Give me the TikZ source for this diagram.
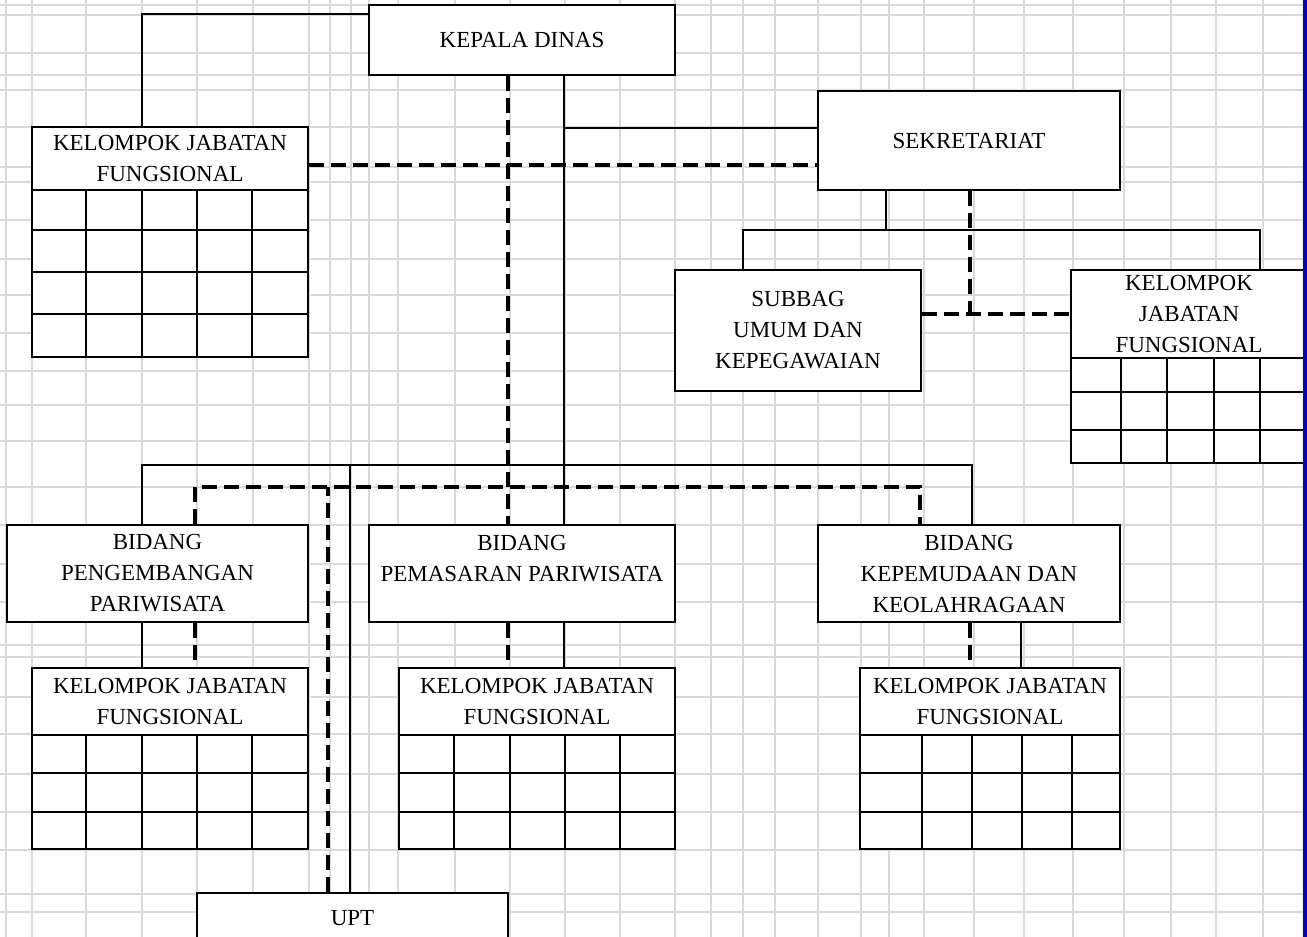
\documentclass[tikz,border=0pt]{standalone}
\usepackage{fontspec}
\setmainfont{Liberation Serif}
\definecolor{gridgray}{RGB}{217,217,217}
\definecolor{blueedge}{RGB}{0,0,204}
\tikzset{
  box/.style={draw, line width=1.8pt, fill=white, inner sep=0pt, align=center,
    font=\fontsize{23}{31}\selectfont},
  conn/.style={line width=1.8pt},
  dconn/.style={line width=3.5pt, dash pattern=on 15pt off 7pt},
  gridln/.style={draw=gridgray, line width=1.5pt},
  tbl/.style={line width=1.8pt}
}
\begin{document}
\begin{tikzpicture}[x=1pt,y=-1pt]
\useasboundingbox (0,0) rectangle (1307,937);
\clip (0,0) rectangle (1307,937);
\fill[white] (0,0) rectangle (1307,937);
% background grid
\foreach \gx in {6,32,86,142,197,253,309,330,351,369,398,455,510,565,620,675,711,743,775,818,861,889,924,974,1024,1073,1124,1171,1216,1263}
  \draw[gridln] (\gx,0) -- (\gx,937);
\foreach \gy in {5,15,53,75,90,127,167,182,220,259,295,333,371,405,441,487,525,564,602,645,657,697,734,774,812,850,894,912}
  \draw[gridln] (0,\gy) -- (1307,\gy);

% boxes
\node[box, minimum width=306pt, minimum height=70pt] (kd) at (522,40) {KEPALA DINAS};
\node[box, minimum width=276pt, minimum height=63pt] (kjf1h) at (170,158.5) {KELOMPOK JABATAN\\FUNGSIONAL};
\node[box, minimum width=276pt, minimum height=167pt] (kjf1t) at (170,273.5) {};
\node[box, minimum width=302pt, minimum height=99pt] (sek) at (969,140.5) {SEKRETARIAT};
\node[box, minimum width=246pt, minimum height=121pt] (sub) at (798,330.5) {SUBBAG\\UMUM DAN\\KEPEGAWAIAN};
\node[box, minimum width=236pt, minimum height=88pt] (kjf2h) at (1189,314) {KELOMPOK\\JABATAN\\FUNGSIONAL};
\node[box, minimum width=236pt, minimum height=105pt] (kjf2t) at (1189,410.5) {};
\node[box, minimum width=301pt, minimum height=97pt] (bp1) at (157.5,573.5) {BIDANG\\PENGEMBANGAN\\PARIWISATA};
\node[box, minimum width=306pt, minimum height=97pt] (bp2) at (522,573.5) {BIDANG\\PEMASARAN PARIWISATA\\\mbox{}};
\node[box, minimum width=302pt, minimum height=97pt] (bp3) at (969,573.5) {BIDANG\\KEPEMUDAAN DAN\\KEOLAHRAGAAN};
\node[box, minimum width=276pt, minimum height=67pt] (kjf3h) at (170,701.5) {KELOMPOK JABATAN\\FUNGSIONAL};
\node[box, minimum width=276pt, minimum height=114pt] (kjf3t) at (170,792) {};
\node[box, minimum width=276pt, minimum height=67pt] (kjf4h) at (537,701.5) {KELOMPOK JABATAN\\FUNGSIONAL};
\node[box, minimum width=276pt, minimum height=114pt] (kjf4t) at (537,792) {};
\node[box, minimum width=260pt, minimum height=67pt] (kjf5h) at (990,701.5) {KELOMPOK JABATAN\\FUNGSIONAL};
\node[box, minimum width=260pt, minimum height=114pt] (kjf5t) at (990,792) {};
\node[box, minimum width=311pt, minimum height=50pt] (upt) at (352.5,918) {UPT};

% table cells
\foreach \x in {86,142,197,252} \draw[tbl] (\x,190) -- (\x,357);
\foreach \y in {230,272,314} \draw[tbl] (32,\y) -- (308,\y);
\foreach \x in {1121,1167,1214,1260} \draw[tbl] (\x,358) -- (\x,463);
\foreach \y in {392,430} \draw[tbl] (1071,\y) -- (1307,\y);
\foreach \x in {86,142,197,252} \draw[tbl] (\x,735) -- (\x,849);
\foreach \y in {773,812} \draw[tbl] (32,\y) -- (308,\y);
\foreach \x in {454,510,565,620} \draw[tbl] (\x,735) -- (\x,849);
\foreach \y in {773,812} \draw[tbl] (399,\y) -- (675,\y);
\foreach \x in {922,972,1022,1072} \draw[tbl] (\x,735) -- (\x,849);
\foreach \y in {773,812} \draw[tbl] (860,\y) -- (1120,\y);

% helper coordinates
\coordinate (bus) at (0,465);
\coordinate (dbus) at (0,487);
\coordinate (sbus) at (0,230);
\coordinate (kdS) at ([xshift=42pt]kd.south);
\coordinate (kdD) at ([xshift=-14pt]kd.south);
\coordinate (d1) at ([xshift=-15.5pt]bp1.north);
\coordinate (d2) at ([xshift=42pt]bp2.north);
\coordinate (d3) at ([xshift=3pt]bp3.north);
\coordinate (d4) at ([xshift=-2.5pt]upt.north);
\coordinate (e1) at ([xshift=37.5pt]bp1.north);
\coordinate (e2) at ([xshift=-14pt]bp2.north);
\coordinate (e3) at ([xshift=-49pt]bp3.north);
\coordinate (e4) at ([xshift=-24.5pt]upt.north);
\coordinate (k1e) at ([yshift=-6.5pt]kjf1h.east);
\coordinate (s1) at ([xshift=-83pt]sek.south);
\coordinate (s2) at ([xshift=1pt]sek.south);
\coordinate (t1) at ([xshift=-55pt]sub.north);
\coordinate (t2) at ([xshift=71pt]kjf2h.north);
\coordinate (u1) at ([yshift=16.5pt]sub.east);
\coordinate (f1) at ([xshift=-15.5pt]bp1.south);
\coordinate (g1) at ([xshift=37.5pt]bp1.south);
\coordinate (f2) at ([xshift=42pt]bp2.south);
\coordinate (g2) at ([xshift=-14pt]bp2.south);
\coordinate (f3) at ([xshift=52pt]bp3.south);
\coordinate (g3) at ([xshift=1pt]bp3.south);

% solid connectors
\draw[conn] ([xshift=-28pt]kjf1h.north) |- ([yshift=-10pt]kd.north west);
\draw[conn] ([yshift=12.5pt]sek.west) -| (kdS);
\draw[conn] (kdS) -- (d2);
\draw[conn] (d1) |- (d3 |- bus) -- (d3);
\draw[conn] (d4) -- (d4 |- bus);
\draw[conn] (s1) -- (s1 |- sbus);
\draw[conn] (t1) |- (t2 |- sbus) -- (t2);
\draw[conn] (f1) -- (f1 |- kjf3h.north);
\draw[conn] (f2) -- (f2 |- kjf4h.north);
\draw[conn] (f3) -- (f3 |- kjf5h.north);

% dashed connectors
\draw[dconn] (kdD) -- (e2);
\draw[dconn] (k1e) -- (k1e -| sek.west);
\draw[dconn] (e1) |- (e3 |- dbus) -- (e3);
\draw[dconn] (e4) -- (e4 |- dbus);
\draw[dconn] (s2) -- (s2 |- u1);
\draw[dconn] (u1) -- (u1 -| kjf2h.west);
\draw[dconn] (g1) -- (g1 |- kjf3h.north);
\draw[dconn] (g2) -- (g2 |- kjf4h.north);
\draw[dconn] (g3) -- (g3 |- kjf5h.north);

% right edge
\draw[line width=4.5pt, draw=blueedge] (1305,0) -- (1305,937);
\end{tikzpicture}
\end{document}
